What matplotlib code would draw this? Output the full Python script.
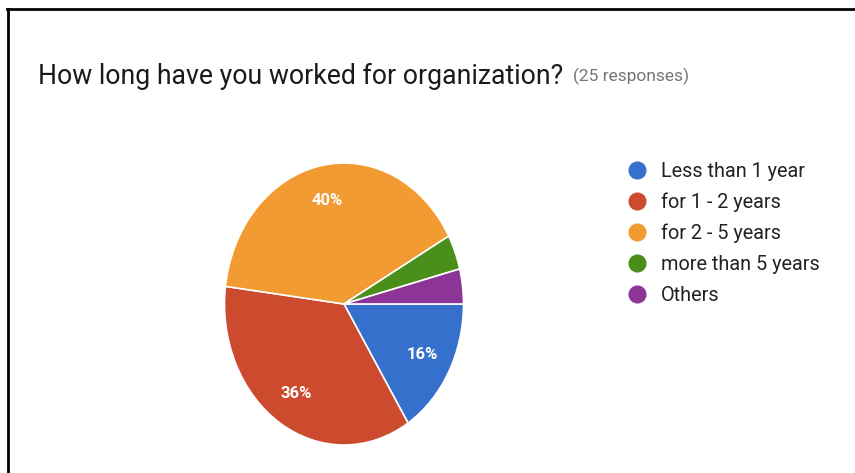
import matplotlib.pyplot as plt
from matplotlib.lines import Line2D

plt.rcParams['font.family'] = ['Roboto', 'DejaVu Sans']

categories = ['Less than 1 year', 'for 1 - 2 years', 'for 2 - 5 years',
              'more than 5 years', 'Others']
shares = [16, 36, 40, 4, 4]
colors = ['#3570cc', '#cc4b2e', '#f29b33', '#4a8f1a', '#8c3596']

W, H = 855, 473
fig = plt.figure(figsize=(W / 100, H / 100), dpi=100)

# pie stretched a little taller than wide
cx, cy, rx, ry = 344, 304, 119.5, 141
ax = fig.add_axes([(cx - rx) / W, 1 - (cy + ry) / H, 2 * rx / W, 2 * ry / H])
wedges, texts, autotexts = ax.pie(
    shares, colors=colors, startangle=0, counterclock=False,
    autopct=lambda p: f'{p:.0f}%' if p >= 10 else '', pctdistance=0.75,
    wedgeprops=dict(edgecolor='white', linewidth=1.2),
    textprops=dict(color='white', fontsize=12, fontweight='bold'))
ax.set_aspect('auto')
ax.set_xlim(-1, 1)
ax.set_ylim(-1, 1)

fig.text(38 / W, 1 - 76 / H, 'How long have you worked for organization?',
         fontsize=19.2, color='#1a1a1a', va='center', ha='left')
fig.text(573 / W, 1 - 76 / H, '(25 responses)', fontsize=12.5,
         color='#757575', va='center', ha='left')

handles = [Line2D([], [], marker='o', linestyle='none', markersize=12,
                  markerfacecolor=c, markeredgecolor=c) for c in colors]
fig.legend(handles, categories, loc='upper left',
           bbox_to_anchor=(615 / W, 1 - 152 / H), frameon=False,
           fontsize=14.3, labelcolor='#222222', handletextpad=0.6,
           labelspacing=0.59, borderpad=0, handlelength=1.2)

# frame lines along the top and left edges
fig.add_artist(Line2D([7 / W, 1], [1 - 9 / H, 1 - 9 / H], color='black', lw=2))
fig.add_artist(Line2D([8 / W, 8 / W], [0, 1 - 9 / H], color='black', lw=2))

fig.savefig('out.png', dpi=100)
